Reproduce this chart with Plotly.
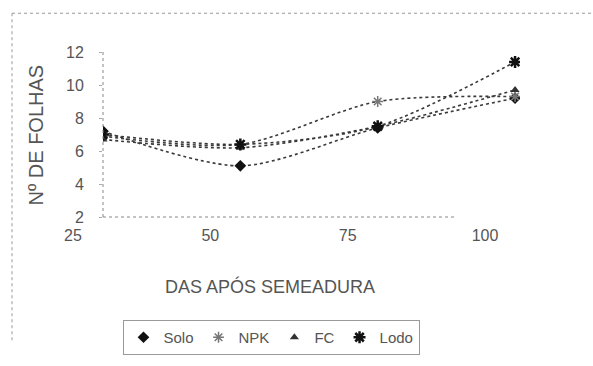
import plotly.graph_objects as go

# Days after sowing and number of leaves per treatment
dias = [25, 50, 75, 100]
solo = [7.2, 5.1, 7.4, 9.2]
npk = [6.9, 6.4, 9.0, 9.3]
fc = [6.7, 6.2, 7.5, 9.7]
lodo = [7.0, 6.4, 7.5, 11.4]
y_ticks = [2, 4, 6, 8, 10, 12]

W, H = 593, 366
L, R, T, B = 103, 73, 52, 148
PW, PH = W - L - R, H - T - B


def px_x(p):
    return (p - L) / PW


def px_y(p):
    return (H - B - p) / PH


ink = "#3a3a3a"
txt = "#555555"
font = "Liberation Sans, Arial, sans-serif"

series = [
    ("Solo", solo, dict(symbol="diamond", size=9, color="#111111")),
    ("NPK", npk, dict(symbol="asterisk-open", size=9, color="#777777",
                      line=dict(width=1.5, color="#777777"))),
    ("FC", fc, dict(symbol="triangle-up", size=8, color="#333333")),
    ("Lodo", lodo, dict(symbol="asterisk-open", size=10, color="#111111",
                        line=dict(width=2.5, color="#111111"))),
]

fig = go.Figure()
# smoothed dotted lines
for name, vals, mk in series:
    fig.add_trace(go.Scatter(
        x=dias, y=vals, name=name, mode="lines", showlegend=False,
        line=dict(shape="spline", smoothing=0.8, dash="dot", width=1.6, color=ink),
        hoverinfo="skip",
    ))
# markers (these carry the legend entries)
for name, vals, mk in series:
    fig.add_trace(go.Scatter(
        x=dias, y=vals, name=name, mode="markers", marker=mk,
    ))

fig.update_layout(
    width=W, height=H,
    margin=dict(l=L, r=R, t=T, b=B),
    paper_bgcolor="white", plot_bgcolor="white",
    font=dict(family=font, color=txt, size=15),
    showlegend=True,
    legend=dict(
        orientation="h", x=px_x(271), y=px_y(320), xanchor="center", yanchor="top",
        font=dict(size=15, color=txt), itemwidth=30,
        bordercolor="#999999", borderwidth=1, bgcolor="rgba(0,0,0,0)",
        tracegroupgap=0,
    ),
    xaxis=dict(
        range=[25, 100.9], tickvals=dias, ticktext=[str(d) for d in dias],
        showgrid=False, zeroline=False, showline=False,
        ticks="", ticklabelshift=-30, ticklabelstandoff=7,
        tickfont=dict(size=16, color=txt),
    ),
    yaxis=dict(
        range=[2, 12], tickvals=y_ticks, showgrid=False, zeroline=False,
        showline=False, ticks="outside", ticklen=3, tickcolor="#aaaaaa",
        ticklabelstandoff=12, tickfont=dict(size=16, color=txt),
    ),
    annotations=[
        dict(text="Nº DE FOLHAS", xref="paper", yref="paper",
             x=px_x(36), y=px_y(136), textangle=-90, showarrow=False,
             xanchor="center", yanchor="middle",
             font=dict(size=20, color=txt)),
        dict(text="DAS APÓS SEMEADURA", xref="paper", yref="paper",
             x=px_x(270), y=px_y(288), showarrow=False,
             xanchor="center", yanchor="middle",
             font=dict(size=18, color=txt)),
    ],
    shapes=[
        # dotted axis lines
        dict(type="line", xref="paper", yref="paper", x0=0, x1=0, y0=0, y1=1,
             line=dict(color="#888888", width=1, dash="dot")),
        dict(type="line", xref="paper", yref="paper", x0=0, x1=px_x(455), y0=0, y1=0,
             line=dict(color="#888888", width=1, dash="dot")),
        # dotted outer frame of the chart area
        dict(type="line", xref="paper", yref="paper", x0=px_x(12), x1=px_x(593),
             y0=px_y(13), y1=px_y(13),
             line=dict(color="#999999", width=1, dash="dot")),
        dict(type="line", xref="paper", yref="paper", x0=px_x(12), x1=px_x(12),
             y0=px_y(13), y1=px_y(345),
             line=dict(color="#999999", width=1, dash="dot")),
    ],
)

fig.write_html("out.html")
